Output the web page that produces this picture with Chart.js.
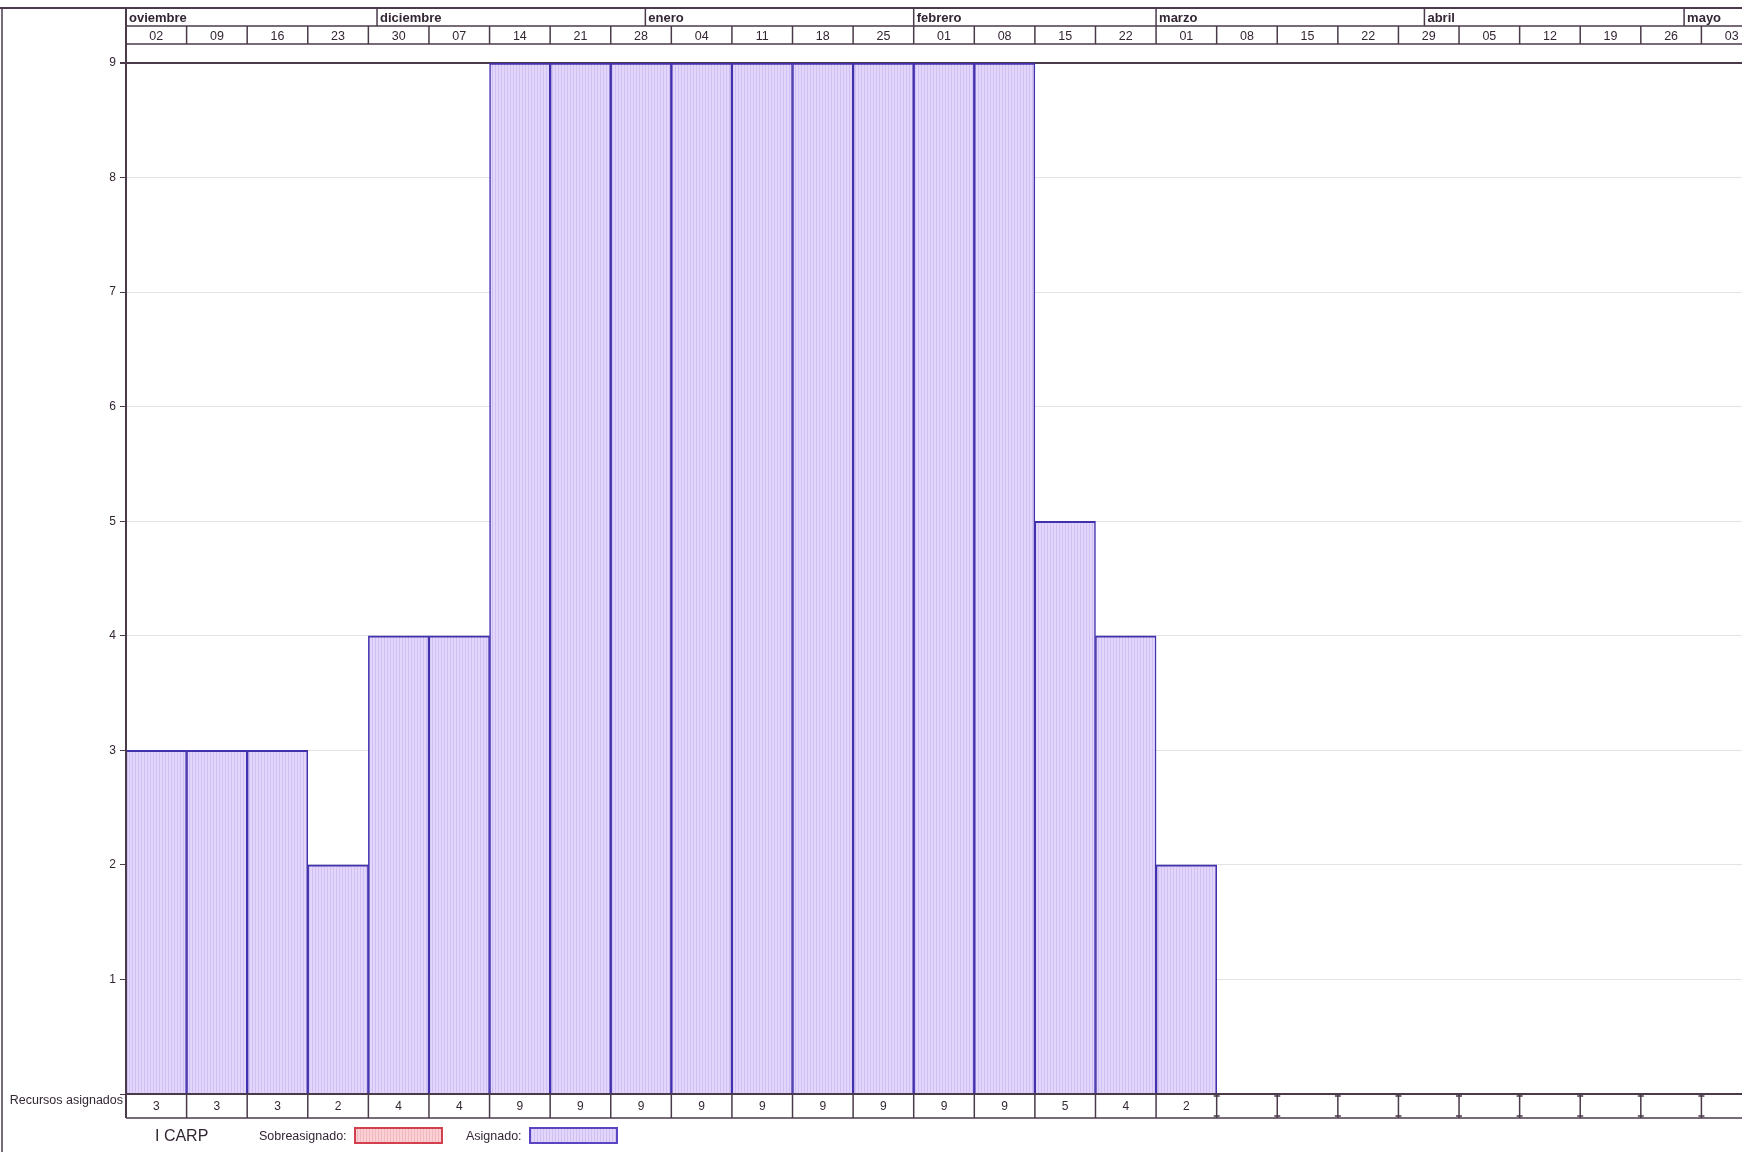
<!DOCTYPE html>
<html>
<head>
<meta charset="utf-8">
<title>Recursos asignados - I CARP</title>
<script src="https://cdn.jsdelivr.net/npm/chart.js@4/dist/chart.umd.min.js"></script>
<style>
  html, body { margin: 0; padding: 0; background: #ffffff; overflow: hidden; }
  canvas { display: block; }
</style>
</head>
<body>
<canvas id="c" width="1762" height="1152"></canvas>
<script>
// Week columns (week start day), Sunday 2 Nov through Sunday 3 May
const weekLabels = ['02','09','16','23','30','07','14','21','28','04','11','18','25','01','08','15','22','01','08','15','22','29','05','12','19','26','03'];
// Assigned resources per week
const assigned = [3, 3, 3, 2, 4, 4, 9, 9, 9, 9, 9, 9, 9, 9, 9, 5, 4, 2];
// Month header: name and first day, counted in days from the first week start
const monthNames = ['oviembre', 'diciembre', 'enero', 'febrero', 'marzo', 'abril', 'mayo'];
const monthStartDay = [0, 29, 60, 91, 119, 150, 180];
// Value axis
const yMax = 9;
const rowTitle = 'Recursos asignados';
const resourceName = 'I CARP';
const legendLabels = ['Sobreasignado:', 'Asignado:'];

const INK = '#4a3a4a';
const TEXT = '#332633';
const BAR_EDGE = '#4231ad';
const FONT = '"Liberation Sans", Arial, sans-serif';

const canvas = document.getElementById('c');
const mainCtx = canvas.getContext('2d');

function stripePattern(base, line) {
  const t = document.createElement('canvas');
  t.width = 3; t.height = 4;
  const g = t.getContext('2d');
  g.fillStyle = base; g.fillRect(0, 0, 3, 4);
  g.fillStyle = line; g.fillRect(0, 0, 1, 4);
  return mainCtx.createPattern(t, 'repeat');
}
const assignedFill = stripePattern('#e3d6fb', '#d0c0f3');
const overFill = stripePattern('#fad0d4', '#f2b8be');

function hLine(ctx, x1, x2, yy, w, color) {
  ctx.beginPath(); ctx.lineWidth = w; ctx.strokeStyle = color || INK;
  ctx.moveTo(x1, yy); ctx.lineTo(x2, yy); ctx.stroke();
}
function vLine(ctx, xx, y1, y2, w, color) {
  ctx.beginPath(); ctx.lineWidth = w; ctx.strokeStyle = color || INK;
  ctx.moveTo(xx, y1); ctx.lineTo(xx, y2); ctx.stroke();
}

// Timescale header, value table and legend around the plot
const projectFrame = {
  id: 'projectFrame',
  afterDatasetsDraw(chart) {
    const { ctx, scales: { x, y } } = chart;
    const W = chart.width;
    const colW = x.getPixelForValue(1) - x.getPixelForValue(0);
    const left = x.getPixelForValue(0) - colW / 2;
    const dayW = colW / 7;

    const headTop = 8, headMid = 26, headBottom = 44;
    const tableTop = y.getPixelForValue(0);
    const tableBottom = tableTop + 24;

    ctx.save();
    // page edge and top rule
    vLine(ctx, 2, headTop, chart.height, 1.5);
    hLine(ctx, 0, W, headTop, 2);

    // month row
    hLine(ctx, left, W, headMid, 1.5);
    ctx.font = 'bold 13px ' + FONT;
    ctx.fillStyle = TEXT;
    ctx.textAlign = 'left';
    ctx.textBaseline = 'alphabetic';
    monthNames.forEach((m, i) => {
      const px = left + monthStartDay[i] * dayW;
      if (i > 0) vLine(ctx, px, headTop, headMid, 1.5);
      ctx.fillText(m, px + 3, headTop + 14);
    });

    // week row
    hLine(ctx, left, W, headBottom, 1.5);
    ctx.font = '12.5px ' + FONT;
    ctx.textAlign = 'center';
    weekLabels.forEach((w, i) => {
      const cx = x.getPixelForValue(i);
      if (i > 0) vLine(ctx, cx - colW / 2, headMid, headBottom, 1.5);
      ctx.fillText(w, cx, headBottom - 4);
    });

    // left frame line through header, plot and table
    vLine(ctx, left, headTop, tableBottom, 2);

    // table row of assigned values
    hLine(ctx, left, W, tableTop, 2);
    hLine(ctx, left, W, tableBottom, 1.5);
    ctx.font = '12px ' + FONT;
    ctx.textAlign = 'center';
    ctx.textBaseline = 'middle';
    weekLabels.forEach((w, i) => {
      const cx = x.getPixelForValue(i);
      const bx = cx + colW / 2;
      vLine(ctx, bx, tableTop, tableBottom, 1.5);
      if (i >= assigned.length - 1) {
        hLine(ctx, bx - 3, bx + 3, tableTop + 2, 1.5);
        hLine(ctx, bx - 3, bx + 3, tableBottom - 2, 1.5);
      }
      if (i < assigned.length) ctx.fillText(String(assigned[i]), cx, tableTop + 13);
    });
    ctx.font = '12.5px ' + FONT;
    ctx.textAlign = 'right';
    ctx.fillText(rowTitle, left - 3, tableTop + 7);

    // legend
    const ly = tableBottom + 17;
    ctx.textBaseline = 'alphabetic';
    ctx.textAlign = 'left';
    ctx.font = '16px ' + FONT;
    ctx.fillText(resourceName, 155, ly + 6);
    ctx.font = '12.5px ' + FONT;
    ctx.fillText(legendLabels[0], 259, ly + 5);
    ctx.fillStyle = overFill;
    ctx.fillRect(355, ly - 7, 87, 15);
    ctx.lineWidth = 2; ctx.strokeStyle = '#d2404f';
    ctx.strokeRect(355, ly - 7, 87, 15);
    ctx.fillStyle = TEXT;
    ctx.fillText(legendLabels[1], 466, ly + 5);
    ctx.fillStyle = assignedFill;
    ctx.fillRect(530, ly - 7, 87, 15);
    ctx.strokeStyle = '#5a44c2';
    ctx.strokeRect(530, ly - 7, 87, 15);
    ctx.restore();
  }
};

new Chart(canvas, {
  type: 'bar',
  data: {
    labels: weekLabels,
    datasets: [{
      label: 'Asignado',
      data: assigned,
      backgroundColor: assignedFill,
      borderColor: BAR_EDGE,
      borderWidth: { top: 2, left: 1.5, right: 1.5, bottom: 0 },
      borderSkipped: 'start',
      barPercentage: 1,
      categoryPercentage: 1
    }]
  },
  options: {
    responsive: false,
    animation: false,
    devicePixelRatio: 1,
    layout: { padding: { top: 63, bottom: 58, left: 0, right: 0 } },
    plugins: { legend: { display: false }, tooltip: { enabled: false } },
    scales: {
      x: { display: false, offset: true, grid: { offset: true } },
      y: {
        min: 0,
        max: yMax,
        afterFit(scale) { scale.width = 126; },
        border: { display: false },
        grid: {
          color: (c) => (c.tick && c.tick.value === yMax ? INK : '#e3e3e3'),
          lineWidth: (c) => (c.tick && c.tick.value === yMax ? 2 : 1),
          tickColor: INK,
          tickLength: 6
        },
        ticks: {
          stepSize: 1,
          padding: 4,
          color: TEXT,
          font: { family: FONT, size: 12 },
          callback: (v) => (v === 0 ? '' : String(v))
        }
      }
    }
  },
  plugins: [projectFrame]
});
</script>
</body>
</html>
